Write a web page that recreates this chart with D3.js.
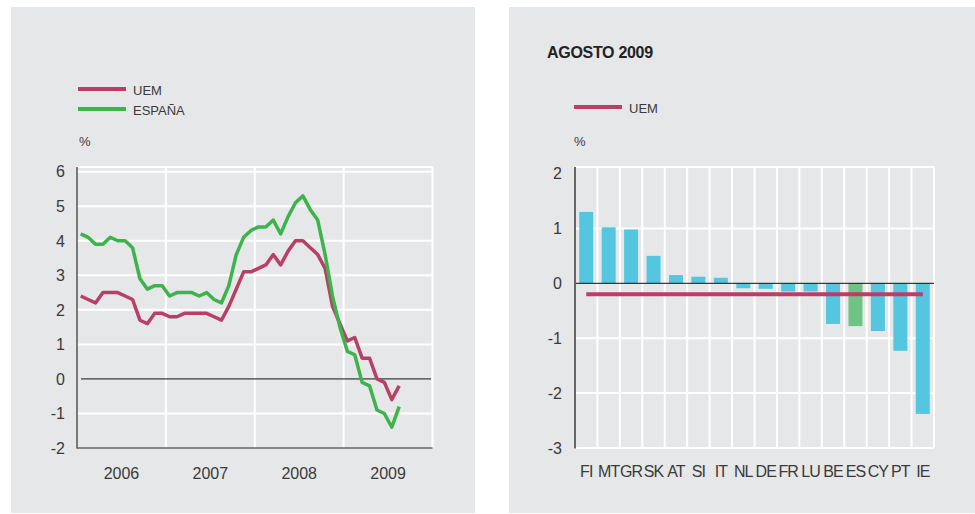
<!DOCTYPE html>
<html>
<head>
<meta charset="utf-8">
<script src="https://cdn.jsdelivr.net/npm/d3@7"></script>
<style>
  body { margin: 0; background: #fff; }
  svg { display: block; font-family: "Liberation Sans", Arial, sans-serif; }
</style>
</head>
<body>
<svg id="chart" width="975" height="514"></svg>
<script>
// IAPC, tasa interanual, ene 2006 - ago 2009
var years = ["2006", "2007", "2008", "2009"];
var uem = [2.4, 2.3, 2.2, 2.5, 2.5, 2.5, 2.4, 2.3, 1.7, 1.6, 1.9, 1.9,
           1.8, 1.8, 1.9, 1.9, 1.9, 1.9, 1.8, 1.7, 2.1, 2.6, 3.1, 3.1,
           3.2, 3.3, 3.6, 3.3, 3.7, 4.0, 4.0, 3.8, 3.6, 3.2, 2.1, 1.6,
           1.1, 1.2, 0.6, 0.6, 0.0, -0.1, -0.6, -0.2];
var espana = [4.2, 4.1, 3.9, 3.9, 4.1, 4.0, 4.0, 3.8, 2.9, 2.6, 2.7, 2.7,
              2.4, 2.5, 2.5, 2.5, 2.4, 2.5, 2.3, 2.2, 2.7, 3.6, 4.1, 4.3,
              4.4, 4.4, 4.6, 4.2, 4.7, 5.1, 5.3, 4.9, 4.6, 3.6, 2.4, 1.5,
              0.8, 0.7, -0.1, -0.2, -0.9, -1.0, -1.4, -0.8];
var leftTicks = [-2, -1, 0, 1, 2, 3, 4, 5, 6];

// agosto 2009 por paises
var countries = ["FI", "MT", "GR", "SK", "AT", "SI", "IT", "NL", "DE", "FR", "LU", "BE", "ES", "CY", "PT", "IE"];
var countryValues = [1.3, 1.02, 0.98, 0.5, 0.15, 0.12, 0.1, -0.09, -0.1, -0.15, -0.15, -0.74, -0.78, -0.87, -1.23, -2.38];
var uemAug = -0.2;
var rightTicks = [-3, -2, -1, 0, 1, 2];

var colUem = "#b83f66", colEsp = "#3cb44b", colBar = "#55c6df", colBarEs = "#6fc484";
var bg = "#e6e7e8", txt = "#3a3a3a";

var svg = d3.select("#chart");

// ---------- panel izquierdo ----------
svg.append("rect").attr("x", 11).attr("y", 7).attr("width", 464).attr("height", 506).attr("fill", bg);

var x1 = d3.scaleLinear().domain([0, 48]).range([77, 432.5]);
var y1 = d3.scaleLinear().domain([-2, 6]).range([448, 171.7]);
var g1 = svg.append("g");

// rejilla
g1.selectAll(".hg").data(leftTicks.filter(function(d) { return d > -2 && d !== 0; }))
  .enter().append("line")
  .attr("x1", 77).attr("x2", 432.5)
  .attr("y1", function(d) { return y1(d); }).attr("y2", function(d) { return y1(d); })
  .attr("stroke", "#fff").attr("stroke-width", 2);
g1.append("line").attr("x1", 77).attr("x2", 432.5).attr("y1", 167).attr("y2", 167)
  .attr("stroke", "#fff").attr("stroke-width", 2);
g1.selectAll(".vg").data([12, 24, 36, 48]).enter().append("line")
  .attr("x1", function(d) { return x1(d); }).attr("x2", function(d) { return x1(d); })
  .attr("y1", 167).attr("y2", 448)
  .attr("stroke", "#fff").attr("stroke-width", 2);

g1.append("line").attr("x1", 81).attr("x2", 431).attr("y1", y1(0)).attr("y2", y1(0))
  .attr("stroke", "#111").attr("stroke-width", 1);

// ejes
g1.append("line").attr("x1", 77).attr("x2", 77).attr("y1", 167).attr("y2", 448.5)
  .attr("stroke", "#555").attr("stroke-width", 1.5);
g1.append("line").attr("x1", 77).attr("x2", 432.5).attr("y1", 448).attr("y2", 448)
  .attr("stroke", "#666").attr("stroke-width", 1.5);

g1.selectAll(".yl").data(leftTicks).enter().append("text")
  .attr("x", 65).attr("y", function(d) { return y1(d); }).attr("dy", "0.36em")
  .attr("text-anchor", "end").attr("font-size", 16).attr("fill", txt)
  .text(function(d) { return d; });

g1.selectAll(".xl").data(years).enter().append("text")
  .attr("x", function(d, i) { return x1(i * 12 + 6); }).attr("y", 479)
  .attr("text-anchor", "middle").attr("font-size", 16).attr("fill", txt)
  .text(function(d) { return d; });

var line1 = d3.line()
  .x(function(d, i) { return x1(i + 0.5); })
  .y(function(d) { return y1(d); });

g1.append("path").datum(uem).attr("d", line1).attr("fill", "none")
  .attr("stroke", colUem).attr("stroke-width", 3.5).attr("stroke-linejoin", "round");
g1.append("path").datum(espana).attr("d", line1).attr("fill", "none")
  .attr("stroke", colEsp).attr("stroke-width", 3.5).attr("stroke-linejoin", "round");

// leyenda
var leg1 = [["UEM", colUem, 89], ["ESPAÑA", colEsp, 109]];
leg1.forEach(function(l) {
  g1.append("line").attr("x1", 78).attr("x2", 126).attr("y1", l[2]).attr("y2", l[2])
    .attr("stroke", l[1]).attr("stroke-width", 4);
  g1.append("text").attr("x", 133).attr("y", l[2] + 1.5).attr("dy", "0.35em")
    .attr("font-size", 13).attr("fill", txt).text(l[0]);
});
g1.append("text").attr("x", 79).attr("y", 146).attr("font-size", 13).attr("fill", txt).text("%");

// ---------- panel derecho ----------
svg.append("rect").attr("x", 509).attr("y", 7).attr("width", 466).attr("height", 506).attr("fill", bg);

var x2 = d3.scaleBand().domain(countries).range([575, 934]).paddingInner(0).paddingOuter(0);
var y2 = d3.scaleLinear().domain([-3, 2]).range([448, 173.5]);
var g2 = svg.append("g");

g2.selectAll(".hg").data(rightTicks.filter(function(d) { return d !== 0 && d !== 2; }))
  .enter().append("line")
  .attr("x1", 575).attr("x2", 934)
  .attr("y1", function(d) { return y2(d); }).attr("y2", function(d) { return y2(d); })
  .attr("stroke", "#fff").attr("stroke-width", 2);
g2.append("line").attr("x1", 575).attr("x2", 934).attr("y1", 167).attr("y2", 167)
  .attr("stroke", "#fff").attr("stroke-width", 2);
g2.selectAll(".vg").data(countries.slice(1).concat(["end"])).enter().append("line")
  .attr("x1", function(d, i) { return 575 + (i + 1) * x2.bandwidth(); })
  .attr("x2", function(d, i) { return 575 + (i + 1) * x2.bandwidth(); })
  .attr("y1", 167).attr("y2", 448)
  .attr("stroke", "#fff").attr("stroke-width", 2);

g2.selectAll(".bar").data(countries).enter().append("rect")
  .attr("x", function(d) { return x2(d) + (x2.bandwidth() - 14) / 2; })
  .attr("width", 14)
  .attr("y", function(d, i) { return y2(Math.max(0, countryValues[i])); })
  .attr("height", function(d, i) { return Math.abs(y2(countryValues[i]) - y2(0)); })
  .attr("fill", function(d) { return d === "ES" ? colBarEs : colBar; });

g2.append("line").attr("x1", 575).attr("x2", 934).attr("y1", y2(0)).attr("y2", y2(0))
  .attr("stroke", "#111").attr("stroke-width", 1);

g2.append("line")
  .attr("x1", x2("FI") + x2.bandwidth() / 2).attr("x2", x2("IE") + x2.bandwidth() / 2)
  .attr("y1", y2(uemAug)).attr("y2", y2(uemAug))
  .attr("stroke", colUem).attr("stroke-width", 4);

g2.append("line").attr("x1", 575).attr("x2", 575).attr("y1", 167).attr("y2", 448.5)
  .attr("stroke", "#666").attr("stroke-width", 2);

g2.selectAll(".yl").data(rightTicks).enter().append("text")
  .attr("x", 562).attr("y", function(d) { return y2(d); }).attr("dy", "0.36em")
  .attr("text-anchor", "end").attr("font-size", 16).attr("fill", txt)
  .text(function(d) { return d; });

g2.selectAll(".xl").data(countries).enter().append("text")
  .attr("x", function(d) { return x2(d) + x2.bandwidth() / 2; }).attr("y", 477)
  .attr("text-anchor", "middle").attr("font-size", 16).attr("letter-spacing", -1)
  .attr("fill", txt).text(function(d) { return d; });

g2.append("text").attr("x", 547).attr("y", 58).attr("font-size", 16).attr("font-weight", "bold")
  .attr("letter-spacing", -0.3).attr("fill", "#222").text("AGOSTO 2009");
g2.append("line").attr("x1", 574).attr("x2", 622).attr("y1", 107).attr("y2", 107)
  .attr("stroke", colUem).attr("stroke-width", 4);
g2.append("text").attr("x", 629).attr("y", 108.5).attr("dy", "0.35em")
  .attr("font-size", 13).attr("fill", txt).text("UEM");
g2.append("text").attr("x", 574).attr("y", 146).attr("font-size", 13).attr("fill", txt).text("%");
</script>
</body>
</html>
